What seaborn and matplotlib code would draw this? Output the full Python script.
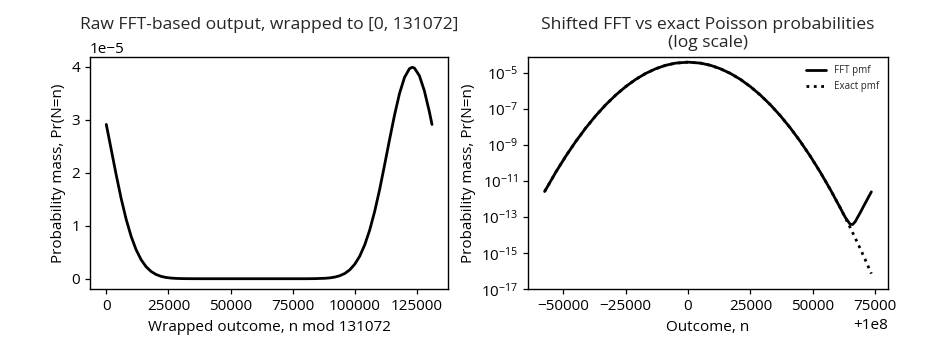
import matplotlib
matplotlib.use("Agg")
import matplotlib.pyplot as plt
import seaborn as sns
import pandas as pd

# ---- data ----
fft_size = 131072
mean_n = 100_000_000

# left panel: wrapped outcome k and raw FFT probability
wrap_k = [0, 2000, 4000, 6000, 8000, 10000, 12000, 14000, 16000, 18000, 20000,
          22000, 24000, 26000, 28000, 30000, 32000, 36000, 40000, 60000, 80000,
          84000, 88000, 90000, 92000, 94000, 96000, 98000, 100000, 102000,
          104000, 106000, 108000, 110000, 112000, 114000, 116000, 118000,
          120000, 122000, 123136, 124000, 126000, 128000, 130000, 131072]
wrap_p = [2.912e-5, 2.435e-5, 1.957e-5, 1.511e-5, 1.121e-5, 7.99e-6, 5.47e-6,
          3.60e-6, 2.27e-6, 1.38e-6, 8.06e-7, 4.52e-7, 2.43e-7, 1.26e-7, 6.3e-8,
          3.0e-8, 1.4e-8, 2.6e-9, 0.0, 0.0, 0.0,
          1.9e-8, 8.3e-8, 1.65e-7, 3.13e-7, 5.73e-7, 1.00e-6, 1.69e-6, 2.75e-6,
          4.27e-6, 6.40e-6, 9.19e-6, 1.27e-5, 1.684e-5, 2.15e-5, 2.629e-5,
          3.09e-5, 3.497e-5, 3.798e-5, 3.964e-5, 3.99e-5, 3.975e-5, 3.830e-5,
          3.545e-5, 3.152e-5, 2.91e-5]

# right panel: outcome relative to 1e8, shifted FFT pmf and exact pmf
rel_n = [-57500, -53000, -49000, -45000, -41000, -37000, -33000, -29000,
         -25000, -21000, -17000, -13000, -9000, -5000, 0, 5000, 9000, 13000,
         17000, 21000, 25000, 29000, 33000, 37000, 41000, 45000, 49000, 53000,
         57000, 61000, 63000, 65000, 66000, 67000, 69000, 71000, 73500]
fft_pmf = [2.65e-12, 3.18e-11, 2.44e-10, 1.60e-9, 8.95e-9, 4.26e-8, 1.73e-7,
           5.96e-7, 1.75e-6, 4.40e-6, 9.41e-6, 1.71e-5, 2.66e-5, 3.52e-5,
           3.99e-5, 3.52e-5, 2.66e-5, 1.71e-5, 9.41e-6, 4.40e-6, 1.75e-6,
           5.96e-7, 1.73e-7, 4.26e-8, 8.95e-9, 1.60e-9, 2.44e-10, 3.18e-11,
           3.52e-12, 3.34e-13, 1.00e-13, 4.01e-14, 3.95e-14, 5.6e-14,
           1.75e-13, 5.85e-13, 2.55e-12]
exact_pmf = [2.65e-12, 3.18e-11, 2.44e-10, 1.60e-9, 8.95e-9, 4.26e-8, 1.73e-7,
             5.96e-7, 1.75e-6, 4.40e-6, 9.41e-6, 1.71e-5, 2.66e-5, 3.52e-5,
             3.99e-5, 3.52e-5, 2.66e-5, 1.71e-5, 9.41e-6, 4.40e-6, 1.75e-6,
             5.96e-7, 1.73e-7, 4.26e-8, 8.95e-9, 1.60e-9, 2.44e-10, 3.18e-11,
             3.52e-12, 3.33e-13, 9.64e-14, 2.68e-14, 1.39e-14, 7.16e-15,
             1.84e-15, 4.54e-16, 7.4e-17]

# ---- style ----
sns.set_theme(style="ticks")
FONT = "Open Sans"
plt.rcParams["font.family"] = [FONT, "DejaVu Sans"]
plt.rcParams["mathtext.fontset"] = "custom"
plt.rcParams["mathtext.rm"] = FONT
plt.rcParams["mathtext.it"] = FONT + ":italic"
plt.rcParams["mathtext.bf"] = FONT + ":bold"
plt.rcParams["axes.edgecolor"] = "black"
plt.rcParams["xtick.color"] = "black"
plt.rcParams["ytick.color"] = "black"
plt.rcParams["axes.labelcolor"] = "black"
plt.rcParams["axes.linewidth"] = 1.0
plt.rcParams["xtick.major.size"] = 3.5
plt.rcParams["ytick.major.size"] = 3.5
plt.rcParams["xtick.major.width"] = 0.9
plt.rcParams["ytick.major.width"] = 0.9

fig = plt.figure(figsize=(9.3, 3.56), dpi=100)
W, H = 930, 356
ax1 = fig.add_axes([90 / W, (H - 289.3) / H, (448.3 - 90) / W, (289.3 - 56.7) / H])
ax2 = fig.add_axes([528.3 / W, (H - 289.3) / H, (887.7 - 528.3) / W, (289.3 - 56.7) / H])

df1 = pd.DataFrame({"k": wrap_k, "p": wrap_p})
sns.lineplot(data=df1, x="k", y="p", ax=ax1, color="black", linewidth=2.0)
ax1.set_title(f"Raw FFT-based output, wrapped to [0, {fft_size}]", fontsize=12.6, pad=9)
ax1.set_xlabel(f"Wrapped outcome, n mod {fft_size}", fontsize=11)
ax1.set_ylabel("Probability mass, Pr(N=n)", fontsize=11)
ax1.tick_params(labelsize=11)
ax1.yaxis.get_offset_text().set_fontsize(11)
ax1.set_xticks([0, 25000, 50000, 75000, 100000, 125000])

df2 = pd.DataFrame({
    "n": [mean_n + v for v in rel_n] * 2,
    "p": fft_pmf + exact_pmf,
    "series": ["FFT pmf"] * len(rel_n) + ["Exact pmf"] * len(rel_n),
})
sns.lineplot(data=df2[df2.series == "FFT pmf"], x="n", y="p", ax=ax2,
             color="black", linewidth=2.0, label="FFT pmf")
sns.lineplot(data=df2[df2.series == "Exact pmf"], x="n", y="p", ax=ax2,
             color="black", linewidth=2.0, linestyle=":", label="Exact pmf")
ax2.set_yscale("log")
ax2.set_ylim(1e-17, 8e-5)
ax2.set_yticks([1e-17, 1e-15, 1e-13, 1e-11, 1e-9, 1e-7, 1e-5])
ax2.minorticks_off()
ax2.set_xticks([mean_n + v for v in [-50000, -25000, 0, 25000, 50000, 75000]])
ax2.set_title("Shifted FFT vs exact Poisson probabilities\n(log scale)", fontsize=12.6,
              linespacing=1.15, pad=7)
ax2.set_xlabel("Outcome, n", fontsize=11)
ax2.set_ylabel("Probability mass, Pr(N=n)", fontsize=11)
ax2.tick_params(labelsize=11)
ax2.xaxis.get_offset_text().set_fontsize(11)
ax2.legend(loc="upper right", frameon=False, fontsize=7)

fig.savefig("out.png", dpi=100)
